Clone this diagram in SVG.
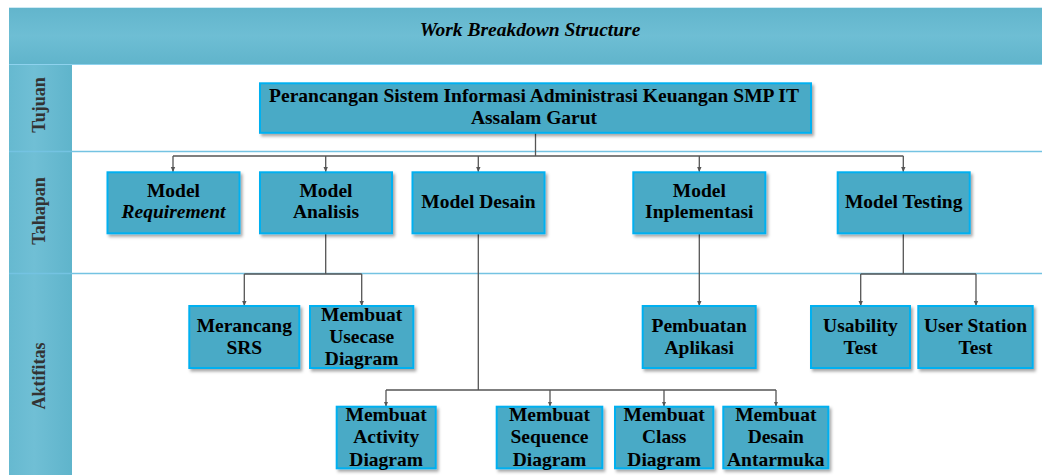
<svg xmlns="http://www.w3.org/2000/svg" width="1042" height="475" viewBox="0 0 1042 475">
<defs>
<linearGradient id="hdr" x1="0" y1="0" x2="0" y2="1">
<stop offset="0" stop-color="#62b5cc"/>
<stop offset="0.5" stop-color="#6ebed4"/>
<stop offset="1" stop-color="#60b4cb"/>
</linearGradient>
<linearGradient id="col" x1="0" y1="0" x2="1" y2="0">
<stop offset="0" stop-color="#66b9d0"/>
<stop offset="0.4" stop-color="#70bfd5"/>
<stop offset="1" stop-color="#5fb4cb"/>
</linearGradient>
<filter id="sh" x="-10%" y="-20%" width="130%" height="150%">
<feDropShadow dx="2" dy="2.5" stdDeviation="1.5" flood-color="#000" flood-opacity="0.35"/>
</filter>
<marker id="arr" markerWidth="6" markerHeight="6" refX="5" refY="3" orient="auto" markerUnits="userSpaceOnUse">
<path d="M0,0.8 L5,3 L0,5.2 Z" fill="#555"/>
</marker>
<style>
.box{fill:#4aaac6;stroke:#00b0f0;stroke-width:2;filter:url(#sh)}
.t{font-family:"Liberation Serif","Times New Roman",serif;font-weight:bold;font-size:19.5px;fill:#000;text-anchor:middle}
.lane{font-family:"Liberation Serif","Times New Roman",serif;font-weight:bold;font-size:18px;fill:#333;text-anchor:middle}
.sep{stroke:#74c3e2;stroke-width:1.5}
.c{fill:none;stroke:#555;stroke-width:1.3}
.a{fill:none;stroke:#555;stroke-width:1.3;marker-end:url(#arr)}
</style>
</defs>
<rect x="0" y="0" width="1042" height="475" fill="#fff"/>
<!-- header -->
<rect x="9" y="7.5" width="1033" height="57" fill="url(#hdr)"/>
<line x1="9" y1="7.5" x2="1042" y2="7.5" stroke="#cfeaf4" stroke-width="1"/>
<line x1="9" y1="64.5" x2="1042" y2="64.5" stroke="#8ed2ee" stroke-width="1.2"/>
<text x="530" y="35.5" class="t" font-style="italic">Work Breakdown Structure</text>
<!-- left column -->
<rect x="9" y="65" width="63" height="410" fill="url(#col)"/>
<line x1="9" y1="151.5" x2="1042" y2="151.5" class="sep"/>
<line x1="9" y1="273.5" x2="1042" y2="273.5" class="sep"/>
<text class="lane" transform="translate(45,105) rotate(-90)">Tujuan</text>
<text class="lane" transform="translate(45,211) rotate(-90)">Tahapan</text>
<text class="lane" transform="translate(45,376) rotate(-90)">Aktifitas</text>
<!-- connectors -->
<g id="connectors">
<path class="c" d="M535.5,133 V156 M173,156 H903.3"/>
<path class="a" d="M173,156 V172"/>
<path class="a" d="M325.7,156 V172"/>
<path class="a" d="M478.3,156 V172"/>
<path class="a" d="M699.3,156 V172"/>
<path class="a" d="M903.3,156 V172"/>
<path class="c" d="M325.7,233 V274 M244.3,274 H361.7"/>
<path class="a" d="M244.3,274 V306"/>
<path class="a" d="M361.7,274 V306"/>
<path class="c" d="M478.3,233 V390 M386,390 H776"/>
<path class="a" d="M386,390 V406.5"/>
<path class="a" d="M550,390 V406.5"/>
<path class="a" d="M664,390 V406.5"/>
<path class="a" d="M776,390 V406.5"/>
<path class="a" d="M699.3,233 V306"/>
<path class="c" d="M903.3,233 V274 M860.7,274 H976"/>
<path class="a" d="M860.7,274 V306"/>
<path class="a" d="M976,274 V306"/>
</g>
<!-- nodes -->
<g id="root"><rect class="box" x="260" y="83.3" width="551" height="49.5"/>
<text class="t" x="534" y="102.3">Perancangan Sistem Informasi Administrasi Keuangan SMP IT</text>
<text class="t" x="534" y="124">Assalam Garut</text></g>
<g id="model-requirement"><rect class="box" x="107.5" y="172.3" width="132" height="61"/>
<text class="t" x="173.5" y="196.7">Model</text>
<text class="t" x="173.5" y="218.3" font-style="italic">Requirement</text></g>
<g id="model-analisis"><rect class="box" x="260" y="172.3" width="132" height="61"/>
<text class="t" x="326" y="196.7">Model</text>
<text class="t" x="326" y="218.3">Analisis</text></g>
<g id="model-desain"><rect class="box" x="412.5" y="172.3" width="132" height="61"/>
<text class="t" x="478.5" y="208.3">Model Desain</text></g>
<g id="model-inplementasi"><rect class="box" x="633.3" y="172.3" width="132" height="61"/>
<text class="t" x="699.3" y="196.7">Model</text>
<text class="t" x="699.3" y="218.3">Inplementasi</text></g>
<g id="model-testing"><rect class="box" x="837.7" y="172.3" width="132" height="61"/>
<text class="t" x="903.7" y="208.3">Model Testing</text></g>
<g id="merancang-srs"><rect class="box" x="189.3" y="306" width="110" height="62"/>
<text class="t" x="244.3" y="332.3">Merancang</text>
<text class="t" x="244.3" y="353.5">SRS</text></g>
<g id="usecase"><rect class="box" x="310" y="306" width="103.3" height="62"/>
<text class="t" x="361.7" y="320.7">Membuat</text>
<text class="t" x="361.7" y="342.8">Usecase</text>
<text class="t" x="361.7" y="365">Diagram</text></g>
<g id="pembuatan-aplikasi"><rect class="box" x="642.7" y="306" width="113" height="62"/>
<text class="t" x="699.2" y="332.3">Pembuatan</text>
<text class="t" x="699.2" y="353.5">Aplikasi</text></g>
<g id="usability-test"><rect class="box" x="811" y="306" width="99" height="62"/>
<text class="t" x="860.5" y="332.3">Usability</text>
<text class="t" x="860.5" y="353.5">Test</text></g>
<g id="user-station-test"><rect class="box" x="918.3" y="306" width="114.4" height="62"/>
<text class="t" x="975.5" y="332.3">User Station</text>
<text class="t" x="975.5" y="353.5">Test</text></g>
<g id="activity"><rect class="box" x="336.7" y="406.7" width="99" height="61.6"/>
<text class="t" x="386.2" y="420.7">Membuat</text>
<text class="t" x="386.2" y="443.3">Activity</text>
<text class="t" x="386.2" y="465.7">Diagram</text></g>
<g id="sequence"><rect class="box" x="496.7" y="406.7" width="105.6" height="61.6"/>
<text class="t" x="549.5" y="420.7">Membuat</text>
<text class="t" x="549.5" y="443.3">Sequence</text>
<text class="t" x="549.5" y="465.7">Diagram</text></g>
<g id="class"><rect class="box" x="615" y="406.7" width="98.3" height="61.6"/>
<text class="t" x="664.2" y="420.7">Membuat</text>
<text class="t" x="664.2" y="443.3">Class</text>
<text class="t" x="664.2" y="465.7">Diagram</text></g>
<g id="desain-antarmuka"><rect class="box" x="723.3" y="406.7" width="105" height="61.6"/>
<text class="t" x="775.8" y="420.7">Membuat</text>
<text class="t" x="775.8" y="443.3">Desain</text>
<text class="t" x="775.8" y="465.7">Antarmuka</text></g>
</svg>
